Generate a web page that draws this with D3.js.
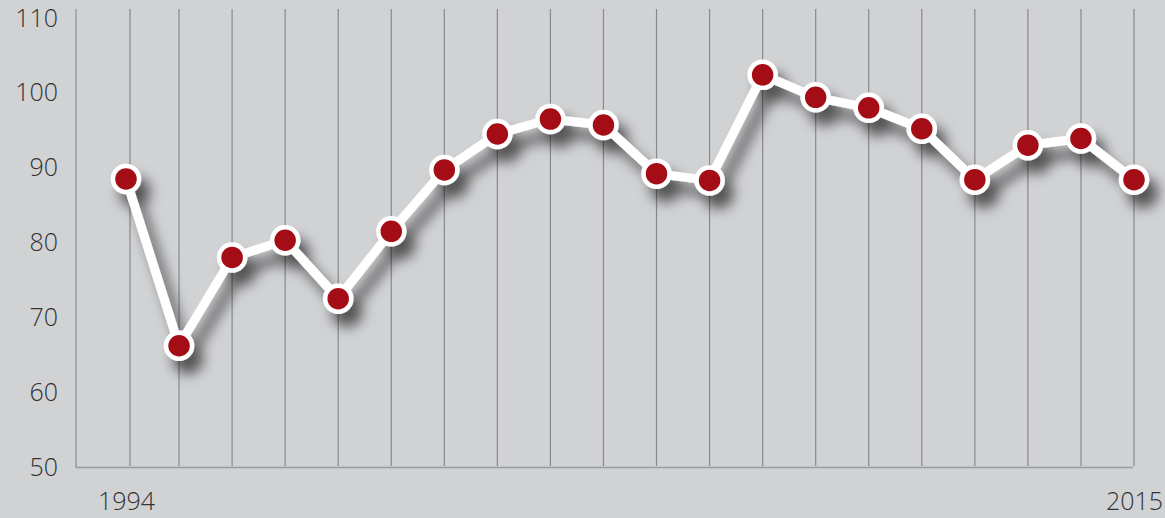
<!DOCTYPE html>
<html>
<head>
<meta charset="utf-8">
<script src="https://cdn.jsdelivr.net/npm/d3@7"></script>
<style>
  body { margin: 0; background: #d1d2d4; }
  svg { display: block; }
  .tick text { font-family: "Open Sans", sans-serif; font-weight: 300; fill: #333333; }
</style>
</head>
<body>
<div id="chart"></div>
<script>
var years = [1994, 1995, 1996, 1997, 1998, 1999, 2000, 2001, 2002, 2003,
             2004, 2005, 2006, 2007, 2008, 2009, 2010, 2012, 2014, 2015];
var values = [88.5, 66.2, 78.0, 80.3, 72.5, 81.5, 89.7, 94.5, 96.5, 95.7,
              89.2, 88.3, 102.4, 99.4, 98.0, 95.2, 88.4, 93.0, 93.9, 88.4];
var yTicks = [50, 60, 70, 80, 90, 100, 110];
var xLabels = ["1994", "2015"];

var svgWidth = 1165;
var svgHeight = 518;

var svg = d3.select("#chart")
    .append("svg")
    .attr("width", svgWidth)
    .attr("height", svgHeight);

var defs = svg.append("defs");
var shadow = defs.append("filter")
    .attr("id", "shadow")
    .attr("x", "-10%").attr("y", "-20%")
    .attr("width", "130%").attr("height", "150%");
shadow.append("feDropShadow")
    .attr("dx", 9).attr("dy", 13)
    .attr("stdDeviation", 6.5)
    .attr("flood-color", "#000")
    .attr("flood-opacity", 0.6);

var idx = d3.range(values.length);

var xScale = d3.scaleLinear()
    .domain([0, values.length - 1])
    .range([126, 1134]);

var yScale = d3.scaleLinear()
    .domain([50, 110])
    .range([467, 18]);

// vertical grid lines
svg.append("g")
    .selectAll("line")
    .data(idx)
    .enter()
    .append("line")
    .attr("x1", d => xScale(d) + (d === 0 ? 4 : 0))
    .attr("x2", d => xScale(d) + (d === 0 ? 4 : 0))
    .attr("y1", 9)
    .attr("y2", 466)
    .attr("stroke", "#88898b")
    .attr("stroke-width", 1.2);

// axis lines
svg.append("line")
    .attr("x1", 76).attr("x2", 76)
    .attr("y1", 9).attr("y2", 468)
    .attr("stroke", "#9a9b9d").attr("stroke-width", 1.5);
svg.append("line")
    .attr("x1", 76).attr("x2", 1133)
    .attr("y1", 467.5).attr("y2", 467.5)
    .attr("stroke", "#9a9b9d").attr("stroke-width", 1.5);

var leftAxis = d3.axisLeft(yScale)
    .tickValues(yTicks)
    .tickSize(0)
    .tickPadding(0);

svg.append("g")
    .attr("transform", "translate(58, 0)")
    .style("font-size", "25px")
    .call(leftAxis)
    .call(g => g.select(".domain").remove());

var bottomAxis = d3.axisBottom(xScale)
    .tickValues([0, values.length - 1])
    .tickFormat((d, i) => xLabels[i])
    .tickSize(0)
    .tickPadding(0);

svg.append("g")
    .attr("transform", "translate(0, 492)")
    .style("font-size", "25px")
    .call(bottomAxis)
    .call(g => g.select(".domain").remove());

var line = d3.line()
    .x(d => xScale(d))
    .y(d => yScale(values[d]));

var series = svg.append("g").attr("filter", "url(#shadow)");

series.append("path")
    .datum(idx)
    .attr("d", line)
    .attr("fill", "none")
    .attr("stroke", "#ffffff")
    .attr("stroke-width", 9)
    .attr("stroke-linejoin", "round");

series.selectAll("circle")
    .data(idx)
    .enter()
    .append("circle")
    .attr("cx", d => xScale(d))
    .attr("cy", d => yScale(values[d]))
    .attr("r", 13)
    .attr("fill", "#a50b16")
    .attr("stroke", "#ffffff")
    .attr("stroke-width", 4.5);
</script>
</body>
</html>
